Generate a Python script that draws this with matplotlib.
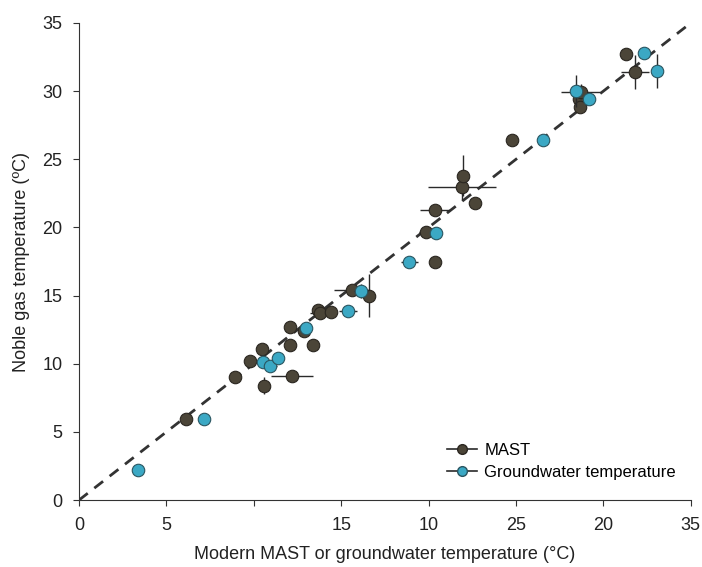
import matplotlib
matplotlib.use("Agg")
import matplotlib.pyplot as plt
from matplotlib.lines import Line2D

plt.rcParams['font.family'] = ['Liberation Sans', 'DejaVu Sans']

# MAST points (x = modern MAST, y = noble gas temperature)
mast_x = [6.1, 8.9, 9.8, 10.45, 10.6, 12.2, 12.05, 12.1, 12.9, 13.4, 13.7, 13.8, 14.4,
          15.6, 16.6, 19.85, 20.35, 20.35, 21.9, 21.95, 22.65, 24.8, 28.6, 28.65, 28.7,
          31.3, 31.8]
mast_y = [5.95, 9.0, 10.2, 11.1, 8.4, 9.1, 12.7, 11.35, 12.4, 11.4, 13.95, 13.7, 13.8,
          15.4, 15.0, 19.7, 21.3, 17.5, 23.0, 23.8, 21.8, 26.4, 29.4, 28.8, 29.9,
          32.7, 31.4]
mast_xerr = [0.1, 0.3, 0.1, 0.2, 0.2, 1.2, 0.2, 0.2, 0.3, 0.3, 0.2, 0.6, 0.2,
             1.0, 0.2, 0.4, 0.85, 0.1, 1.95, 0.1, 0.2, 0.1, 0.2, 0.2, 1.1,
             0.2, 0.8]
mast_yerr = [0.1, 0.4, 0.1, 0.2, 0.6, 0.1, 0.2, 0.2, 0.3, 0.4, 0.2, 0.3, 0.1,
             0.3, 1.6, 0.4, 0.2, 0.1, 1.0, 1.5, 0.2, 0.1, 0.3, 0.3, 0.6,
             0.2, 1.25]

# Groundwater temperature points
gw_x = [3.35, 7.15, 10.5, 10.95, 11.4, 13.0, 15.4, 16.15, 18.9, 20.4, 26.55, 28.45,
        29.15, 32.35, 33.05]
gw_y = [2.2, 5.95, 10.1, 9.8, 10.45, 12.6, 13.85, 15.35, 17.5, 19.6, 26.45, 30.0,
        29.45, 32.8, 31.5]
gw_xerr = [0.1, 0.1, 0.3, 0.4, 0.2, 0.3, 0.5, 0.4, 0.5, 0.3, 0.3, 0.2, 0.3, 0.2, 0.2]
gw_yerr = [0.1, 0.1, 0.2, 0.2, 0.2, 0.2, 0.2, 0.5, 0.1, 0.4, 0.1, 1.2, 0.2, 0.2, 1.25]

xticks = [0, 5, 10, 15, 20, 25, 30, 35]
xticklabels = ["0", "5", "", "15", "10", "25", "20", "35"]
yticks = [0, 5, 10, 15, 20, 25, 30, 35]

mast_col = '#4b4538'
gw_col = '#3ba8c4'

fig = plt.figure(figsize=(7.02, 5.67), dpi=100)
ax = fig.add_axes([0.1125, 0.118, 0.8715, 0.8415])

ax.plot([0, 35], [0, 35], ls=(0, (4, 3)), color='#333333', lw=2, zorder=1)

ax.errorbar(mast_x, mast_y, xerr=mast_xerr, yerr=mast_yerr, fmt='o', ms=9,
            mfc=mast_col, mec='#2a2620', mew=0.8, ecolor='#2a2a2a', elinewidth=1,
            capsize=0, zorder=3)
ax.errorbar(gw_x, gw_y, xerr=gw_xerr, yerr=gw_yerr, fmt='o', ms=9,
            mfc=gw_col, mec='#2a5560', mew=0.8, ecolor='#2a2a2a', elinewidth=1,
            capsize=0, zorder=4)

ax.set_xlim(0, 35)
ax.set_ylim(0, 35)
ax.set_xticks(xticks)
ax.set_xticklabels(xticklabels)
ax.set_yticks(yticks)
ax.spines['top'].set_visible(False)
ax.spines['right'].set_visible(False)
ax.spines['left'].set_color('#333333')
ax.spines['bottom'].set_color('#333333')
ax.tick_params(direction='out', length=4, color='#333333', labelsize=13,
               labelcolor='#222222', pad=8)

ax.set_xlabel('Modern MAST or groundwater temperature (°C)', fontsize=13,
              color='#222222', labelpad=9)
ax.set_ylabel('Noble gas temperature (ºC)', fontsize=13, color='#222222',
              labelpad=9)

handles = [
    Line2D([], [], color='#2a2a2a', lw=1.2, marker='o', ms=7, mfc=mast_col,
           mec='#2a2620'),
    Line2D([], [], color='#2a2a2a', lw=1.2, marker='o', ms=7, mfc=gw_col,
           mec='#2a5560'),
]
ax.legend(handles, ['MAST', 'Groundwater temperature'], loc='lower right',
          frameon=False, fontsize=12, handlelength=1.8, handletextpad=0.4,
          labelspacing=0.45, bbox_to_anchor=(1.0, 0.01))

fig.savefig('out.png', dpi=100)
